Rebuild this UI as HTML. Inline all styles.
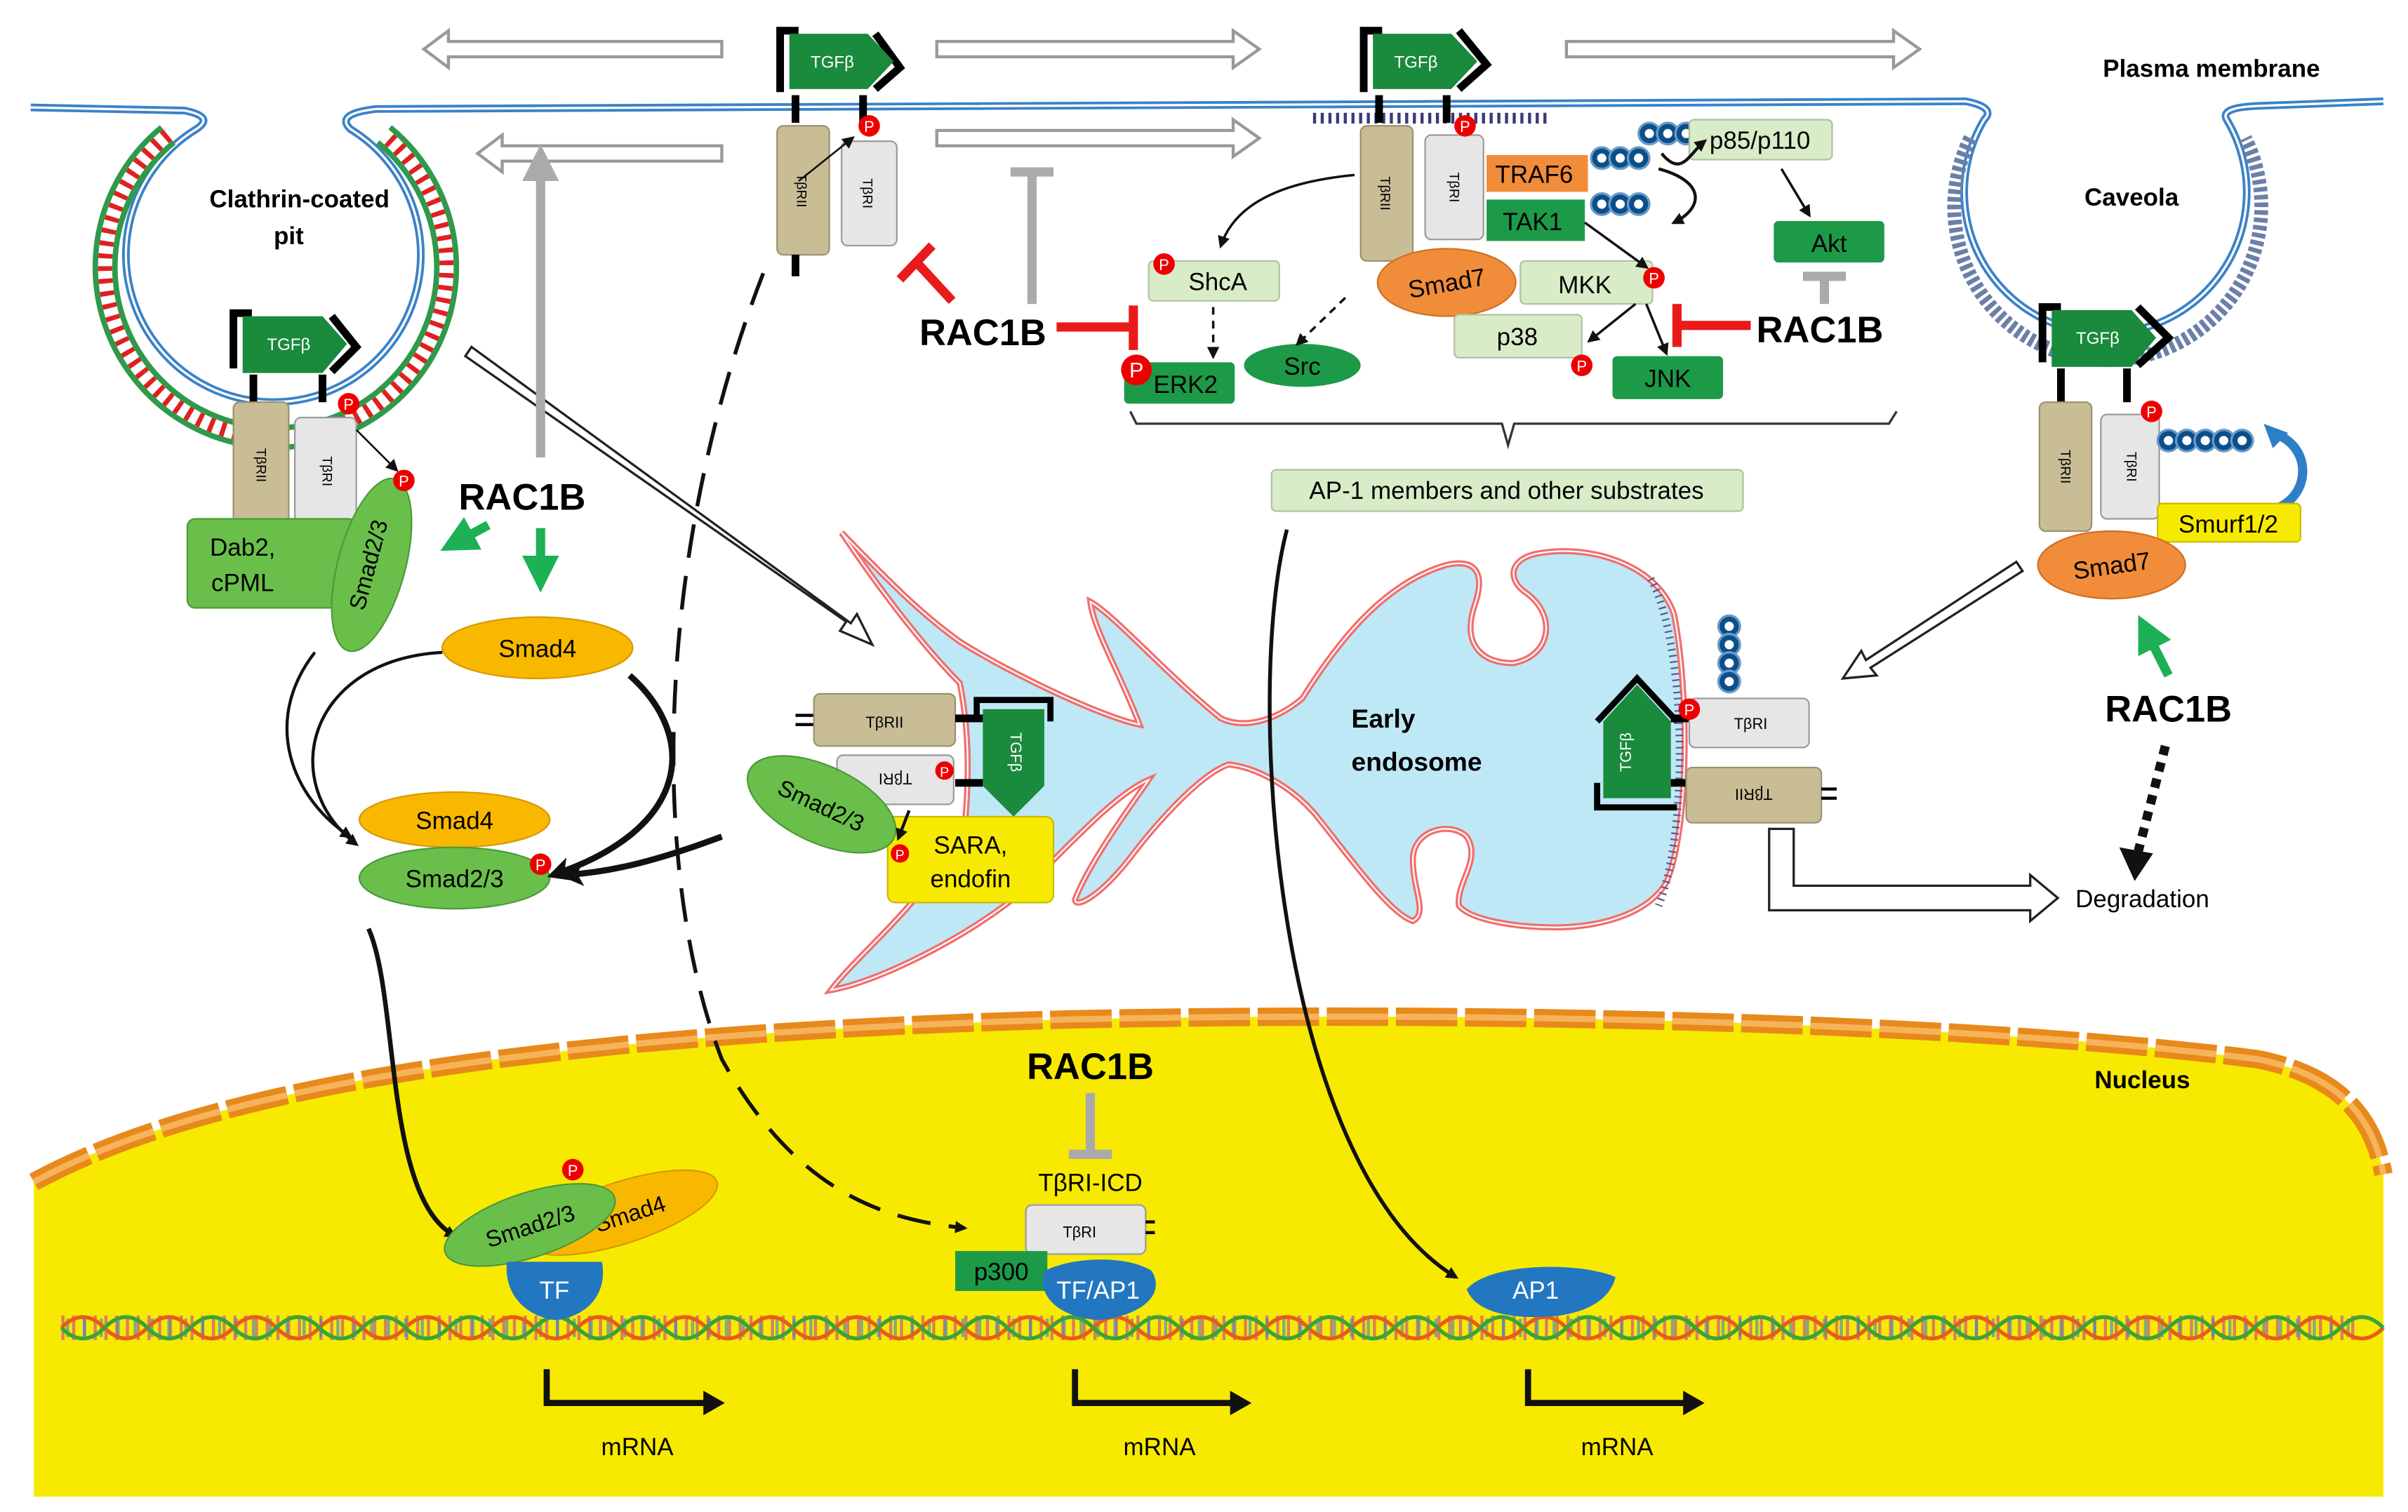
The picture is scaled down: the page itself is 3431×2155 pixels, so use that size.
<!DOCTYPE html>
<html><head><meta charset="utf-8"><style>
html,body{margin:0;padding:0;background:#fff;}
svg{display:block;}
text{font-family:"Liberation Sans",sans-serif;}
</style></head><body>
<svg width="3431" height="2155" viewBox="0 0 1568 985" preserveAspectRatio="none" xmlns="http://www.w3.org/2000/svg">
<defs>
<marker id="ab" markerWidth="8" markerHeight="8" refX="6" refY="4" orient="auto" markerUnits="userSpaceOnUse"><path d="M0,0 L8,4 L0,8 Z" fill="#111"/></marker>
<marker id="abL" markerWidth="16" markerHeight="16" refX="12" refY="8" orient="auto" markerUnits="userSpaceOnUse"><path d="M0,0 L16,8 L0,16 L4,8 Z" fill="#111"/></marker>
<marker id="ag" markerWidth="24" markerHeight="24" refX="18" refY="12" orient="auto" markerUnits="userSpaceOnUse"><path d="M0,0 L24,12 L0,24 Z" fill="#1db054"/></marker>
<marker id="agr" markerWidth="24" markerHeight="24" refX="18" refY="12" orient="auto" markerUnits="userSpaceOnUse"><path d="M0,0 L24,12 L0,24 Z" fill="#aaa"/></marker>
</defs>

<!-- Nucleus -->
<path d="M22,770 C150,700 400,672 700,664 C1000,658 1300,668 1470,690 C1520,700 1545,725 1552,765 L1552,975 L22,975 Z" fill="#f7ea00"/>
<path d="M22,770 C150,700 400,672 700,664 C1000,658 1300,668 1470,690 C1520,700 1545,725 1552,765" fill="none" stroke="#e8891b" stroke-width="12" stroke-dasharray="40,5"/>
<path d="M22,770 C150,700 400,672 700,664 C1000,658 1300,668 1470,690 C1520,700 1545,725 1552,765" fill="none" stroke="#f6b35a" stroke-width="4" stroke-dasharray="40,5"/>
<text x="1395" y="709" font-size="16" font-weight="bold" text-anchor="middle">Nucleus</text>

<!-- DNA -->
<path d="M40,865 L1536,865" stroke="#c83a9a" stroke-width="16" stroke-dasharray="2,5" opacity="0.6"/>
<path d="M43,865 L1536,865" stroke="#2a8ad0" stroke-width="12" stroke-dasharray="2,9" opacity="0.6"/>
<g stroke-width="2.5">
<path d="M40,865 q14,-14 28,0 t28,0 t28,0 t28,0 t28,0 t28,0 t28,0 t28,0 t28,0 t28,0 t28,0 t28,0 t28,0 t28,0 t28,0 t28,0 t28,0 t28,0 t28,0 t28,0 t28,0 t28,0 t28,0 t28,0 t28,0 t28,0 t28,0 t28,0 t28,0 t28,0 t28,0 t28,0 t28,0 t28,0 t28,0 t28,0 t28,0 t28,0 t28,0 t28,0 t28,0 t28,0 t28,0 t28,0 t28,0 t28,0 t28,0 t28,0 t28,0 t28,0 t28,0 t28,0 t28,0 t28,0" fill="none" stroke="#e85c1a"/>
<path d="M40,865 q14,14 28,0 t28,0 t28,0 t28,0 t28,0 t28,0 t28,0 t28,0 t28,0 t28,0 t28,0 t28,0 t28,0 t28,0 t28,0 t28,0 t28,0 t28,0 t28,0 t28,0 t28,0 t28,0 t28,0 t28,0 t28,0 t28,0 t28,0 t28,0 t28,0 t28,0 t28,0 t28,0 t28,0 t28,0 t28,0 t28,0 t28,0 t28,0 t28,0 t28,0 t28,0 t28,0 t28,0 t28,0 t28,0 t28,0 t28,0 t28,0 t28,0 t28,0 t28,0 t28,0 t28,0 t28,0" fill="none" stroke="#3aa33a"/>
</g>

<!-- mRNA bent arrows -->
<g stroke="#111" stroke-width="4" fill="none">
<path d="M356,892 L356,914 L460,914"/><path d="M700,892 L700,914 L803,914"/><path d="M995,892 L995,914 L1098,914"/>
</g>
<g fill="#111"><path d="M458,906 L472,914 L458,922Z"/><path d="M801,906 L815,914 L801,922Z"/><path d="M1096,906 L1110,914 L1096,922Z"/></g>
<g font-size="16" text-anchor="middle"><text x="415" y="948">mRNA</text><text x="755" y="948">mRNA</text><text x="1053" y="948">mRNA</text></g>

<!-- Endosome -->
<path id="endo" d="M548,347 C580,380 600,400 625,418 C660,440 720,468 742,472 C730,440 712,410 710,392 C725,400 760,440 795,468 C810,475 830,470 848,455 C870,420 900,380 942,368 C960,364 968,372 960,395 C952,420 965,432 985,432 C1010,428 1015,400 992,385 C980,375 985,362 1005,360 C1040,355 1080,370 1090,400 C1100,450 1100,540 1085,575 C1070,600 1030,605 1008,604 C990,604 958,600 950,590 C948,575 965,560 955,545 C945,535 920,540 920,560 C920,580 930,595 920,600 C905,595 880,560 860,535 C845,515 820,500 800,498 C780,505 750,540 735,560 C715,585 700,592 700,586 C710,560 740,520 748,508 C720,520 680,570 654,590 C620,615 570,640 541,645 C560,620 600,590 628,540 C632,500 630,470 625,445 C600,420 570,380 548,347 Z" fill="#bfe8f7" stroke="#f07070" stroke-width="4"/>
<path d="M548,347 C580,380 600,400 625,418 C660,440 720,468 742,472 C730,440 712,410 710,392 C725,400 760,440 795,468 C810,475 830,470 848,455 C870,420 900,380 942,368 C960,364 968,372 960,395 C952,420 965,432 985,432 C1010,428 1015,400 992,385 C980,375 985,362 1005,360 C1040,355 1080,370 1090,400 C1100,450 1100,540 1085,575 C1070,600 1030,605 1008,604 C990,604 958,600 950,590 C948,575 965,560 955,545 C945,535 920,540 920,560 C920,580 930,595 920,600 C905,595 880,560 860,535 C845,515 820,500 800,498 C780,505 750,540 735,560 C715,585 700,592 700,586 C710,560 740,520 748,508 C720,520 680,570 654,590 C620,615 570,640 541,645 C560,620 600,590 628,540 C632,500 630,470 625,445 C600,420 570,380 548,347 Z" fill="none" stroke="#fff" stroke-width="1"/>
<path d="M1075,377 C1098,420 1100,540 1080,590" fill="none" stroke="#5a5a8a" stroke-width="5" stroke-dasharray="1,3"/>
<text x="880" y="474" font-size="17" font-weight="bold">Early</text>
<text x="880" y="502" font-size="17" font-weight="bold">endosome</text>

<!-- Hollow arrows -->
<g fill="#fff" stroke="#999" stroke-width="2">
<polygon points="470,27 292,27 292,20 276,32 292,44 292,37 470,37"/>
<polygon points="470,95 327,95 327,88 311,100 327,112 327,105 470,105"/>
<polygon points="610,27 803,27 803,20 820,32 803,44 803,37 610,37"/>
<polygon points="610,85 803,85 803,78 820,90 803,102 803,95 610,95"/>
<polygon points="1020,27 1233,27 1233,20 1250,32 1233,44 1233,37 1020,37"/>
</g>
<g fill="#fff" stroke="#222" stroke-width="1.5">
<polygon points="303,232 551,405 547,411 568,420 558,400 554,406 307,226"/>
<polygon points="1313,366 1215,430 1212,424 1200,442 1222,440 1218,435 1317,372"/>
<path d="M1152,540 L1152,593 L1322,593 L1322,600 L1340,585 L1322,570 L1322,577 L1168,577 L1168,540 Z"/>
</g>
<text x="1395" y="591" font-size="16" text-anchor="middle">Degradation</text>

<!-- Membrane -->
<g fill="none">
<path d="M20,70 L120,72 Q140,76 128,84 A96,96 0 1 0 228,84 Q218,74 245,71 L1280,66 Q1300,70 1292,78 A92,92 0 1 0 1450,78 Q1445,70 1470,69 L1552,66" stroke="#3b82c8" stroke-width="5"/>
<path d="M20,70 L120,72 Q140,76 128,84 A96,96 0 1 0 228,84 Q218,74 245,71 L1280,66 Q1300,70 1292,78 A92,92 0 1 0 1450,78 Q1445,70 1470,69 L1552,66" stroke="#fff" stroke-width="1.5"/>
<path d="M112,92 A109,109 0 1 0 250,92" stroke="#2e9a4a" stroke-width="16" transform="translate(-5,-6) scale(1.02)"/>
<path d="M112,92 A109,109 0 1 0 250,92" stroke="#fff" stroke-width="9" transform="translate(-5,-6) scale(1.02)"/>
<path d="M112,92 A109,109 0 1 0 250,92" stroke="#e02020" stroke-width="9" stroke-dasharray="3,5" transform="translate(-5,-6) scale(1.02)"/>
<path d="M1283,90 A100,100 0 1 0 1462,90" stroke="#6c7fa8" stroke-width="9" stroke-dasharray="3,2"/>
<path d="M855,77 L1010,77" stroke="#3a3a7a" stroke-width="7" stroke-dasharray="2,3"/>
</g>
<text x="195" y="135" font-size="16" font-weight="bold" text-anchor="middle">Clathrin-coated</text>
<text x="188" y="159" font-size="16" font-weight="bold" text-anchor="middle">pit</text>
<text x="1388" y="134" font-size="16" font-weight="bold" text-anchor="middle">Caveola</text>
<text x="1440" y="50" font-size="16" font-weight="bold" text-anchor="middle">Plasma membrane</text>

<!-- Receptor groups -->
<g>
<path d="M508,60 L508,20 L520,20" stroke="#000" stroke-width="5" fill="none"/>
<path d="M518,62 L518,80 M562,62 L562,80" stroke="#000" stroke-width="5"/>
<path d="M570,58 L586,44 L570,22" stroke="#000" stroke-width="5" fill="none"/>
<path d="M514,22 L565,22 L582,40 L565,58 L514,58 Z" fill="#1a8a3c"/>
<text x="542" y="44" font-size="11" fill="#fff" text-anchor="middle">TGFβ</text>
<rect x="506" y="82" width="34" height="84" rx="4" fill="#c9bd96" stroke="#9a9070"/>
<rect x="548" y="92" width="36" height="68" rx="4" fill="#e6e6e6" stroke="#999"/>
<text transform="translate(519,124) rotate(90)" font-size="9" text-anchor="middle">TβRII</text>
<text transform="translate(562,126) rotate(90)" font-size="9" text-anchor="middle">TβRI</text>
<path d="M518,166 L518,180" stroke="#000" stroke-width="5"/>
<circle cx="566" cy="82" r="7" fill="#e00"/><text x="566" y="86" font-size="10" fill="#fff" text-anchor="middle">P</text>
<path d="M520,118 L555,90" stroke="#111" stroke-width="1.2" marker-end="url(#ab)"/>
</g>
<g>
<path d="M888,60 L888,20 L900,20" stroke="#000" stroke-width="5" fill="none"/>
<path d="M898,62 L898,80 M942,62 L942,80" stroke="#000" stroke-width="5"/>
<path d="M950,58 L968,42 L950,20" stroke="#000" stroke-width="5" fill="none"/>
<path d="M894,22 L945,22 L962,40 L945,58 L894,58 Z" fill="#1a8a3c"/>
<text x="922" y="44" font-size="11" fill="#fff" text-anchor="middle">TGFβ</text>
<rect x="886" y="82" width="34" height="88" rx="4" fill="#c9bd96" stroke="#9a9070"/>
<rect x="928" y="88" width="38" height="68" rx="4" fill="#e6e6e6" stroke="#999"/>
<text transform="translate(899,126) rotate(90)" font-size="9" text-anchor="middle">TβRII</text>
<text transform="translate(944,122) rotate(90)" font-size="9" text-anchor="middle">TβRI</text>
<circle cx="954" cy="82" r="7" fill="#e00"/><text x="954" y="86" font-size="10" fill="#fff" text-anchor="middle">P</text>
</g>
<g>
<path d="M152,240 L152,204 L164,204" stroke="#000" stroke-width="5" fill="none"/>
<path d="M165,244 L165,262 M210,244 L210,262" stroke="#000" stroke-width="5"/>
<path d="M216,242 L232,226 L216,206" stroke="#000" stroke-width="5" fill="none"/>
<path d="M158,206 L210,206 L226,224 L210,243 L158,243 Z" fill="#1a8a3c"/>
<text x="188" y="228" font-size="11" fill="#fff" text-anchor="middle">TGFβ</text>
<rect x="152" y="262" width="36" height="82" rx="4" fill="#c9bd96" stroke="#9a9070"/>
<rect x="192" y="272" width="40" height="70" rx="4" fill="#e6e6e6" stroke="#999"/>
<text transform="translate(167,303) rotate(90)" font-size="9" text-anchor="middle">TβRII</text>
<text transform="translate(210,307) rotate(90)" font-size="9" text-anchor="middle">TβRI</text>
<circle cx="227" cy="263" r="7" fill="#e00"/><text x="227" y="267" font-size="10" fill="#fff" text-anchor="middle">P</text>
<path d="M232,280 L258,306" stroke="#111" stroke-width="1.2" marker-end="url(#ab)"/>
</g>
<g>
<path d="M1330,236 L1330,200 L1342,200" stroke="#000" stroke-width="5" fill="none"/>
<path d="M1342,240 L1342,262 M1385,240 L1385,262" stroke="#000" stroke-width="5"/>
<path d="M1392,238 L1412,220 L1392,200" stroke="#000" stroke-width="5" fill="none"/>
<path d="M1336,202 L1388,202 L1404,220 L1388,239 L1336,239 Z" fill="#1a8a3c"/>
<text x="1366" y="224" font-size="11" fill="#fff" text-anchor="middle">TGFβ</text>
<rect x="1328" y="262" width="34" height="84" rx="4" fill="#c9bd96" stroke="#9a9070"/>
<rect x="1368" y="270" width="38" height="68" rx="4" fill="#e6e6e6" stroke="#999"/>
<text transform="translate(1342,304) rotate(90)" font-size="9" text-anchor="middle">TβRII</text>
<text transform="translate(1385,304) rotate(90)" font-size="9" text-anchor="middle">TβRI</text>
<circle cx="1401" cy="268" r="7" fill="#e00"/><text x="1401" y="272" font-size="10" fill="#fff" text-anchor="middle">P</text>
</g>

<!-- Endosome receptors -->
<g>
<path d="M518,466 L530,466 M518,472 L530,472" stroke="#000" stroke-width="2"/>
<rect x="530" y="452" width="92" height="34" rx="4" fill="#c9bd96" stroke="#9a9070"/>
<text x="576" y="474" font-size="10" text-anchor="middle">TβRII</text>
<rect x="545" y="492" width="76" height="32" rx="4" fill="#e6e6e6" stroke="#999"/>
<text x="583" y="512" font-size="10" text-anchor="middle" transform="rotate(180,583,508)">TβRI</text>
<path d="M622,468 L640,468 M622,510 L640,510" stroke="#000" stroke-width="5"/>
<path d="M640,462 L640,512 L660,532 L680,512 L680,462 Z" fill="#1a8a3c"/>
<path d="M636,470 L636,456 L684,456 L684,470" stroke="#000" stroke-width="4" fill="none"/>
<text transform="translate(658,490) rotate(90)" font-size="10" fill="#fff" text-anchor="middle">TGFβ</text>
<circle cx="615" cy="502" r="6" fill="#e00"/><text x="615" y="506" font-size="9" fill="#fff" text-anchor="middle">P</text>
</g>
<g>
<path d="M1044,470 L1066,446 L1088,470 L1088,520 L1044,520 Z" fill="#1a8a3c"/>
<path d="M1040,470 L1066,442 L1092,470" stroke="#000" stroke-width="4" fill="none"/>
<path d="M1040,510 L1040,526 L1092,526" stroke="#000" stroke-width="4" fill="none"/>
<text transform="translate(1062,490) rotate(-90)" font-size="10" fill="#fff" text-anchor="middle">TGFβ</text>
<path d="M1088,468 L1100,468 M1088,510 L1100,510" stroke="#000" stroke-width="5"/>
<rect x="1100" y="455" width="78" height="32" rx="4" fill="#e6e6e6" stroke="#999"/>
<text x="1140" y="475" font-size="10" text-anchor="middle">TβRI</text>
<rect x="1098" y="500" width="88" height="36" rx="4" fill="#c9bd96" stroke="#9a9070"/>
<text x="1142" y="522" font-size="10" text-anchor="middle" transform="rotate(180,1142,518)">TβRII</text>
<path d="M1186,514 L1196,514 M1186,520 L1196,520" stroke="#000" stroke-width="2"/>
<circle cx="1100" cy="462" r="7" fill="#e00"/><text x="1100" y="466" font-size="10" fill="#fff" text-anchor="middle">P</text>
</g>

<!-- Ubiquitin chains -->
<g fill="#0b4f8a" stroke="#6a9ac8" stroke-width="1.5">
<circle cx="1043" cy="103" r="7"/><circle cx="1055" cy="103" r="7"/><circle cx="1067" cy="103" r="7"/>
<circle cx="1043" cy="133" r="7"/><circle cx="1055" cy="133" r="7"/><circle cx="1067" cy="133" r="7"/>
<circle cx="1074" cy="87" r="7"/><circle cx="1086" cy="87" r="7"/><circle cx="1098" cy="87" r="7"/>
<circle cx="1412" cy="287" r="7"/><circle cx="1424" cy="287" r="7"/><circle cx="1436" cy="287" r="7"/><circle cx="1448" cy="287" r="7"/><circle cx="1460" cy="287" r="7"/>
<circle cx="1126" cy="408" r="7"/><circle cx="1126" cy="420" r="7"/><circle cx="1126" cy="432" r="7"/><circle cx="1126" cy="444" r="7"/>
</g>
<g fill="#fff">
<circle cx="1043" cy="103" r="3"/><circle cx="1055" cy="103" r="3"/><circle cx="1067" cy="103" r="3"/>
<circle cx="1043" cy="133" r="3"/><circle cx="1055" cy="133" r="3"/><circle cx="1067" cy="133" r="3"/>
<circle cx="1074" cy="87" r="3"/><circle cx="1086" cy="87" r="3"/><circle cx="1098" cy="87" r="3"/>
<circle cx="1412" cy="287" r="3"/><circle cx="1424" cy="287" r="3"/><circle cx="1436" cy="287" r="3"/><circle cx="1448" cy="287" r="3"/><circle cx="1460" cy="287" r="3"/>
<circle cx="1126" cy="408" r="3"/><circle cx="1126" cy="420" r="3"/><circle cx="1126" cy="432" r="3"/><circle cx="1126" cy="444" r="3"/>
</g>
<path d="M1480,282 C1505,290 1505,320 1485,330" fill="none" stroke="#2f7ec8" stroke-width="6"/>
<path d="M1474,276 L1490,282 L1480,292 Z" fill="#2f7ec8"/>

<!-- top-right nodes -->
<g font-size="16" text-anchor="middle">
<rect x="968" y="101" width="66" height="24" fill="#f08c3a"/><text x="999" y="119">TRAF6</text>
<rect x="968" y="130" width="64" height="27" fill="#1d9a48"/><text x="998" y="150">TAK1</text>
<rect x="1100" y="78" width="93" height="26" rx="3" fill="#d9ecc8" stroke="#b0c0a0"/><text x="1146" y="97">p85/p110</text>
<rect x="1155" y="144" width="72" height="27" rx="3" fill="#1d9a48"/><text x="1191" y="164">Akt</text>
<ellipse cx="942" cy="184" rx="45" ry="22" fill="#f08c3a" stroke="#d07020"/><text x="942" y="190" transform="rotate(-10,942,184)">Smad7</text>
<rect x="990" y="170" width="86" height="28" rx="3" fill="#d9ecc8" stroke="#b0c0a0"/><text x="1032" y="191">MKK</text>
<rect x="947" y="205" width="83" height="28" rx="3" fill="#d9ecc8" stroke="#b0c0a0"/><text x="988" y="225">p38</text>
<rect x="1050" y="232" width="72" height="28" rx="3" fill="#1d9a48"/><text x="1086" y="252">JNK</text>
<rect x="748" y="170" width="85" height="26" rx="3" fill="#d9ecc8" stroke="#b0c0a0"/><text x="793" y="189">ShcA</text>
<rect x="732" y="236" width="72" height="27" rx="3" fill="#1d9a48"/><text x="772" y="256">ERK2</text>
<ellipse cx="848" cy="238" rx="38" ry="14" fill="#1d9a48"/><text x="848" y="244">Src</text>
<rect x="828" y="306" width="307" height="27" rx="3" fill="#d9ecc8" stroke="#b0c0a0"/><text x="981" y="325">AP-1 members and other substrates</text>
</g>
<g fill="#e00"><circle cx="1077" cy="181" r="7"/><circle cx="1030" cy="238" r="7"/><circle cx="758" cy="172" r="7"/><circle cx="740" cy="241" r="10"/></g>
<g fill="#fff" text-anchor="middle" font-size="10"><text x="1077" y="185">P</text><text x="1030" y="242">P</text><text x="758" y="176">P</text><text x="740" y="246" font-size="14">P</text></g>
<path d="M736,268 L740,276 L978,276 L982,290 L986,276 L1230,276 L1235,268" fill="none" stroke="#333" stroke-width="1.5"/>

<!-- arrows top -->
<g stroke="#111" stroke-width="1.6" fill="none" marker-end="url(#ab)">
<path d="M882,114 C840,118 805,130 795,160"/>
<path d="M876,194 L845,224" stroke-dasharray="5,4"/>
<path d="M790,200 L790,232" stroke-dasharray="5,4"/>
<path d="M1032,145 L1072,174"/>
<path d="M1065,198 L1035,222"/>
<path d="M1072,198 L1085,230"/>
<path d="M1082,100 C1095,116 1100,100 1110,92" stroke-width="2"/>
<path d="M1080,110 C1110,118 1110,135 1090,145" stroke-width="2"/>
<path d="M1160,110 L1178,140"/>
</g>

<!-- RAC1B labels & inhibitions -->
<g font-size="24" font-weight="bold" text-anchor="middle">
<text x="640" y="225">RAC1B</text><text x="1185" y="223">RAC1B</text><text x="340" y="332">RAC1B</text><text x="1412" y="470">RAC1B</text><text x="710" y="703">RAC1B</text>
</g>
<g stroke="#e81a1a" stroke-width="6" fill="none">
<path d="M688,213 L738,213 M738,199 L738,228"/>
<path d="M1140,212 L1092,212 M1092,198 L1092,226"/>
<path d="M620,196 L596,170 M586,182 L607,160"/>
</g>
<g stroke="#aaa" stroke-width="6" fill="none">
<path d="M672,198 L672,112 M658,112 L686,112"/>
<path d="M1188,198 L1188,180 M1174,180 L1202,180"/>
<path d="M710,712 L710,752 M696,752 L724,752"/>
</g>
<path d="M352,298 L352,100" stroke="#aaa" stroke-width="6" marker-end="url(#agr)"/>
<path d="M318,342 L292,356" stroke="#1db054" stroke-width="6" marker-end="url(#ag)"/>
<path d="M352,344 L352,380" stroke="#1db054" stroke-width="6" marker-end="url(#ag)"/>
<path d="M1412,440 L1395,406" stroke="#1db054" stroke-width="6" marker-end="url(#ag)"/>
<path d="M1410,486 L1392,556" stroke="#111" stroke-width="6" stroke-dasharray="6,5"/>
<path d="M1380,552 L1390,574 L1402,556 Z" fill="#111"/>

<!-- Left lower complex -->
<rect x="122" y="338" width="110" height="58" rx="5" fill="#6abf4b" stroke="#4a9a3a"/>
<text x="158" y="362" font-size="16" text-anchor="middle">Dab2,</text>
<text x="158" y="385" font-size="16" text-anchor="middle">cPML</text>
<ellipse cx="242" cy="368" rx="22" ry="58" fill="#6abf4b" stroke="#4a9a3a" transform="rotate(15,242,368)"/>
<text transform="translate(240,368) rotate(-75)" font-size="15" text-anchor="middle" dy="5">Smad2/3</text>
<circle cx="263" cy="313" r="7" fill="#e00"/><text x="263" y="317" font-size="10" fill="#fff" text-anchor="middle">P</text>
<ellipse cx="350" cy="422" rx="62" ry="20" fill="#f8b800" stroke="#d89800"/><text x="350" y="428" font-size="16" text-anchor="middle">Smad4</text>
<ellipse cx="296" cy="534" rx="62" ry="18" fill="#f8b800" stroke="#d89800"/><text x="296" y="540" font-size="16" text-anchor="middle">Smad4</text>
<ellipse cx="296" cy="572" rx="62" ry="20" fill="#6abf4b" stroke="#4a9a3a"/><text x="296" y="578" font-size="16" text-anchor="middle">Smad2/3</text>
<circle cx="352" cy="563" r="7" fill="#e00"/><text x="352" y="567" font-size="10" fill="#fff" text-anchor="middle">P</text>
<g fill="none" stroke="#111" stroke-width="2" marker-end="url(#ab)">
<path d="M205,425 C170,470 190,520 228,545"/>
<path d="M288,425 C200,430 180,510 232,550"/>
<path d="M240,605 C260,650 250,780 296,805" stroke-width="3"/>
<path d="M838,345 C810,450 830,760 948,832" stroke-width="2.5"/>
</g>
<path d="M410,440 C455,480 450,540 360,570" fill="none" stroke="#111" stroke-width="4" marker-end="url(#abL)"/>
<path d="M470,545 C430,560 400,568 368,570" fill="none" stroke="#111" stroke-width="4" marker-end="url(#abL)"/>
<path d="M497,178 C430,350 420,560 470,690 C520,780 580,795 628,800" fill="none" stroke="#111" stroke-width="2.5" stroke-dasharray="22,12" marker-end="url(#ab)"/>

<!-- SARA endosome complex -->
<rect x="578" y="532" width="108" height="56" rx="5" fill="#f7ea00" stroke="#c8b800"/>
<text x="632" y="556" font-size="16" text-anchor="middle">SARA,</text>
<text x="632" y="578" font-size="16" text-anchor="middle">endofin</text>
<ellipse cx="535" cy="524" rx="52" ry="25" fill="#6abf4b" stroke="#4a9a3a" transform="rotate(25,535,524)"/>
<text x="535" y="530" font-size="15" text-anchor="middle" transform="rotate(25,535,524)">Smad2/3</text>
<circle cx="586" cy="556" r="6" fill="#e00"/><text x="586" y="560" font-size="9" fill="#fff" text-anchor="middle">P</text>
<path d="M592,528 L585,546" stroke="#111" stroke-width="2" marker-end="url(#ab)"/>

<!-- Caveola complex -->
<rect x="1405" y="328" width="93" height="25" rx="3" fill="#f7ea00" stroke="#c8b800"/><text x="1451" y="347" font-size="16" text-anchor="middle">Smurf1/2</text>
<ellipse cx="1375" cy="368" rx="48" ry="22" fill="#f08c3a" stroke="#d07020"/><text x="1375" y="374" font-size="16" text-anchor="middle" transform="rotate(-8,1375,368)">Smad7</text>

<!-- Nucleus complexes -->
<ellipse cx="405" cy="790" rx="65" ry="20" fill="#f8b800" stroke="#d89800" transform="rotate(-18,405,790)"/>
<text x="410" y="796" font-size="15" text-anchor="middle" transform="rotate(-18,410,790)">Smad4</text>
<ellipse cx="345" cy="798" rx="58" ry="21" fill="#6abf4b" stroke="#4a9a3a" transform="rotate(-18,345,798)"/>
<text x="345" y="804" font-size="15" text-anchor="middle" transform="rotate(-18,345,798)">Smad2/3</text>
<circle cx="373" cy="762" r="7" fill="#e00"/><text x="373" y="766" font-size="10" fill="#fff" text-anchor="middle">P</text>
<path d="M330,822 L392,822 C396,845 380,858 362,860 C344,858 328,845 330,822 Z" fill="#2277c0"/><text x="361" y="846" font-size="16" fill="#fff" text-anchor="middle">TF</text>
<text x="710" y="776" font-size="16" text-anchor="middle">TβRI-ICD</text>
<rect x="668" y="785" width="78" height="32" rx="4" fill="#e6e6e6" stroke="#999"/><text x="703" y="806" font-size="10" text-anchor="middle">TβRI</text>
<path d="M746,796 L752,796 M746,803 L752,803" stroke="#000" stroke-width="2"/>
<rect x="622" y="815" width="60" height="26" fill="#1d9a48"/><text x="652" y="834" font-size="16" text-anchor="middle">p300</text>
<path d="M680,828 C700,818 735,818 750,828 C760,845 740,858 715,860 C690,858 675,845 680,828 Z" fill="#2277c0"/><text x="715" y="846" font-size="16" fill="#fff" text-anchor="middle">TF/AP1</text>
<path d="M955,840 C970,822 1030,822 1052,832 C1048,848 1030,858 1000,858 C975,858 960,852 955,840 Z" fill="#2277c0"/><text x="1000" y="846" font-size="16" fill="#fff" text-anchor="middle">AP1</text>
</svg>
</body></html>
